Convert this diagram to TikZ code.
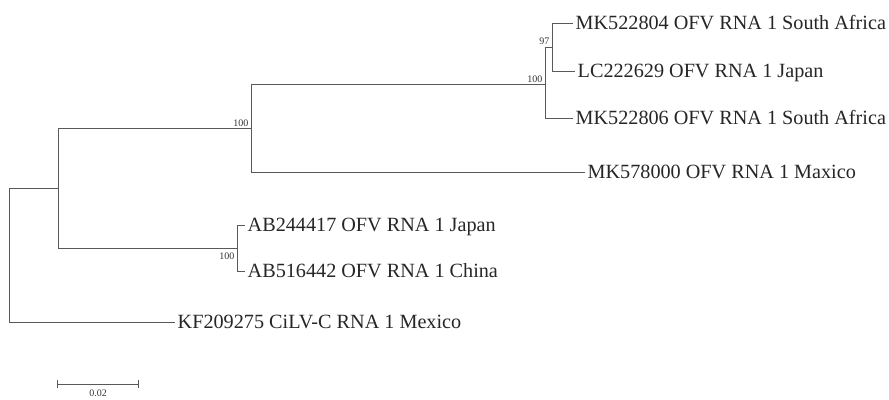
\documentclass[tikz,border=0pt]{standalone}
\usepackage{fontspec}
\setmainfont{Liberation Serif}
\usetikzlibrary{arrows.meta,positioning}

\begin{document}
\begin{tikzpicture}[
  x=1pt, y=-1pt,
  branch/.style={draw=black!65, line width=1pt},
  leaf/.style={anchor=west, inner sep=2.5pt, text=black!85, font=\fontsize{20.2}{24}\selectfont, text height=13pt, text depth=0pt},
  boot/.style={inner sep=0.5pt, text=black!80, font=\fontsize{10}{11}\selectfont},
  scalebar/.style={draw=black!65, line width=1pt, {Bar[width=8pt]}-{Bar[width=8pt]}}
]
\useasboundingbox (0,0) rectangle (889,399);
% internal nodes of the tree
\coordinate (root) at (9,255);
\coordinate (ofv) at (58,188);
\coordinate (cladeA) at (251,128.5);
\coordinate (cladeB) at (545,84);
\coordinate (cladeC) at (552,47);
\coordinate (cladeD) at (237,248);
% leaves
\node[leaf] (mk804) at (573,23) {MK522804 OFV RNA 1 South Africa};
\node[leaf] (lc629) at (575,71) {LC222629 OFV RNA 1 Japan};
\node[leaf] (mk806) at (573,118) {MK522806 OFV RNA 1 South Africa};
\node[leaf] (mk000) at (585,172) {MK578000 OFV RNA 1 Maxico};
\node[leaf] (ab417) at (245,225) {AB244417 OFV RNA 1 Japan};
\node[leaf] (ab442) at (245,271) {AB516442 OFV RNA 1 China};
\node[leaf] (kf275) at (175,322) {KF209275 CiLV-C RNA 1 Mexico};
% branches
\draw[branch] (root) |- (ofv);
\draw[branch] (root) |- (kf275.west);
\draw[branch] (ofv) |- (cladeA);
\draw[branch] (ofv) |- (cladeD);
\draw[branch] (cladeA) |- (cladeB);
\draw[branch] (cladeA) |- (mk000.west);
\draw[branch] (cladeB) |- (cladeC);
\draw[branch] (cladeB) |- (mk806.west);
\draw[branch] (cladeC) |- (mk804.west);
\draw[branch] (cladeC) |- (lc629.west);
\draw[branch] (cladeD) |- (ab417.west);
\draw[branch] (cladeD) |- (ab442.west);
% bootstrap values
\node[boot, above left=2pt and 2pt of cladeC] (bs97) {97};
\node[boot, above left=1pt and 2pt of cladeB] (bsB) {100};
\node[boot, above left=1pt and 2pt of cladeA] (bsA) {100};
\node[boot, below left=4pt and 2pt of cladeD] (bsD) {100};
% scale bar
\coordinate (sbL) at (57,384);
\coordinate (sbR) at (139,384);
\draw[scalebar] (sbL) -- (sbR);
\path (sbL) -- (sbR) node[boot, midway, below=5pt] (sbtext) {0.02};
\end{tikzpicture}
\end{document}
